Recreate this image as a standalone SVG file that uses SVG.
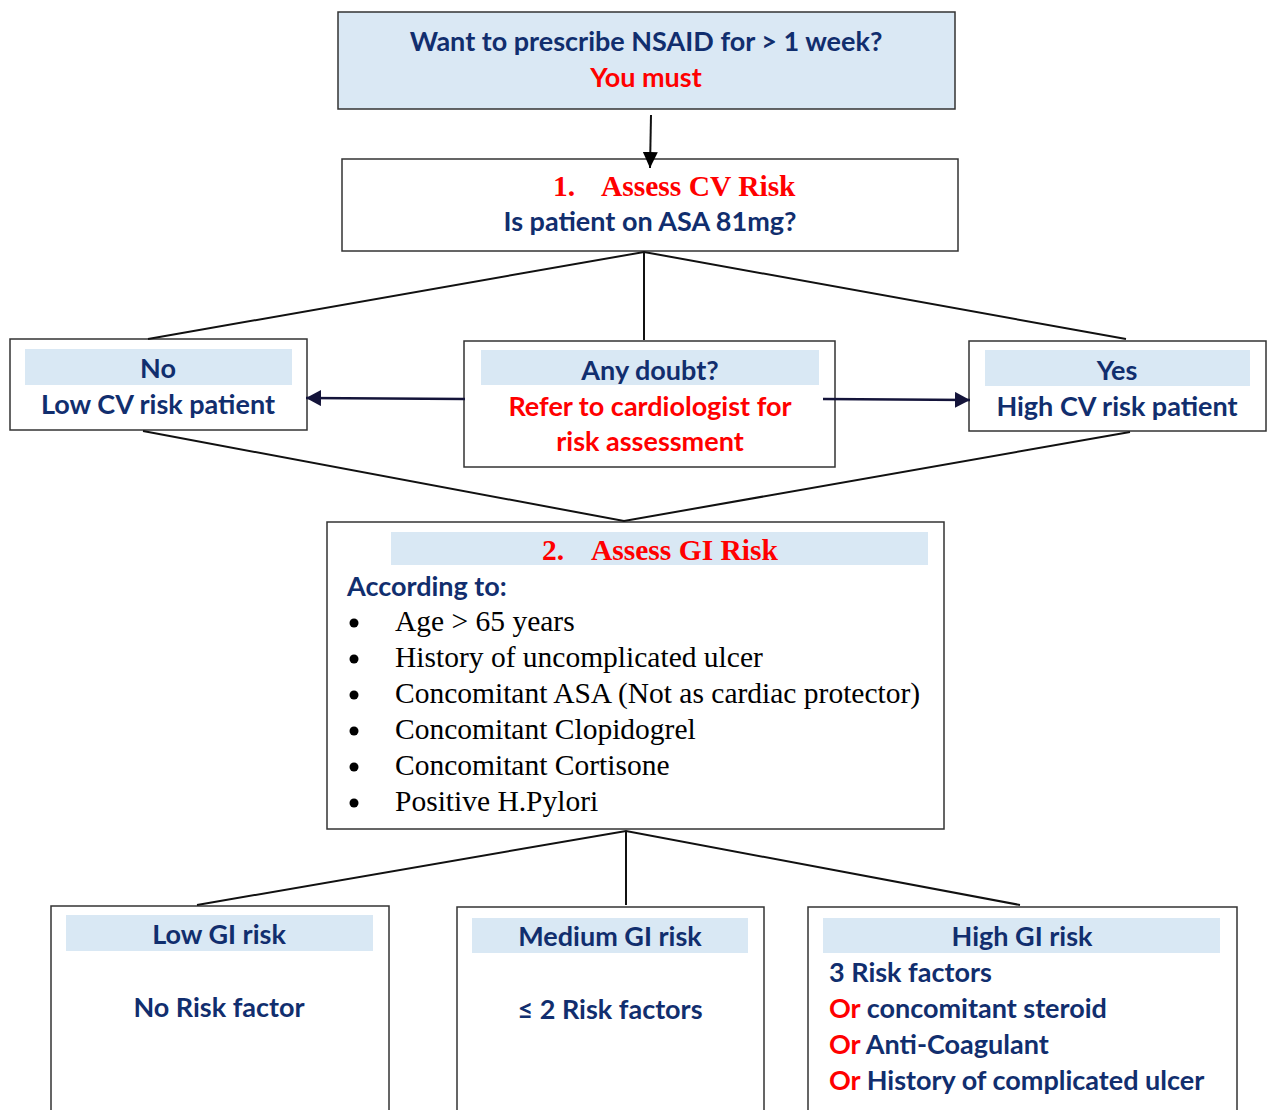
<svg xmlns="http://www.w3.org/2000/svg" width="1268" height="1110" viewBox="0 0 1268 1110">
<defs>
<style>
.box{fill:#fff;stroke:#333;stroke-width:1.5}
.band{fill:#d9e8f4}
.s{font-family:Lato,"Open Sans","Liberation Sans",sans-serif;font-weight:bold;font-size:27px;fill:#112e6e}
.c{text-anchor:middle}
.r{fill:#ff0000}
.t{font-family:"Liberation Serif","Times New Roman",serif;font-size:29.5px;fill:#000}
.tr{font-family:"Liberation Serif","Times New Roman",serif;font-size:29.5px;font-weight:bold;fill:#ff0000}
.ln{stroke:#111;stroke-width:2;fill:none}
.lnb{stroke:#14143a;stroke-width:2.5;fill:none}
</style>
<marker id="ah" viewBox="0 0 10 10" refX="10" refY="5" markerWidth="16" markerHeight="15" preserveAspectRatio="none" orient="auto" markerUnits="userSpaceOnUse">
<path d="M0,0 L10,5 L0,10 z" fill="#000"/>
</marker>
<marker id="ahn" viewBox="0 0 10 10" refX="10" refY="5" markerWidth="15" markerHeight="16" preserveAspectRatio="none" orient="auto" markerUnits="userSpaceOnUse">
<path d="M0,0 L10,5 L0,10 z" fill="#14143a"/>
</marker>
</defs>
<rect width="1268" height="1110" fill="#fff"/>

<g id="n-start">
<rect x="338" y="12" width="617" height="97" fill="#dae8f4" stroke="#333" stroke-width="1.5"/>
<text class="s c" x="646" y="51">Want to prescribe NSAID for &gt; 1 week?</text>
<text class="s c r" x="646" y="87">You must</text>
</g>

<g id="n-cv">
<rect class="box" x="342" y="159" width="616" height="92"/>
<text class="tr" x="553" y="196">1.</text>
<text class="tr" x="601" y="196">Assess CV Risk</text>
<text class="s c" x="650" y="231">Is patient on ASA 81mg?</text>
</g>

<g id="n-no">
<rect class="box" x="10" y="339" width="297" height="91"/>
<rect class="band" x="25" y="349" width="267" height="36"/>
<text class="s c" x="158" y="378">No</text>
<text class="s c" x="158" y="414">Low CV risk patient</text>
</g>

<g id="n-doubt">
<rect class="box" x="464" y="341" width="371" height="126"/>
<rect class="band" x="481" y="350" width="338" height="35"/>
<text class="s c" x="650" y="380">Any doubt?</text>
<text class="s c r" x="650" y="416">Refer to cardiologist for</text>
<text class="s c r" x="650" y="451">risk assessment</text>
</g>

<g id="n-yes">
<rect class="box" x="969" y="341" width="297" height="90"/>
<rect class="band" x="985" y="350" width="265" height="36"/>
<text class="s c" x="1117" y="380">Yes</text>
<text class="s c" x="1117" y="416">High CV risk patient</text>
</g>

<g id="n-gi">
<rect class="box" x="327" y="522" width="617" height="307"/>
<rect class="band" x="391" y="532" width="537" height="33"/>
<text class="tr" x="542" y="560">2.</text>
<text class="tr" x="591" y="560">Assess GI Risk</text>
<text class="s" x="347" y="596">According to:</text>
<circle cx="354" cy="623" r="4.5" fill="#000"/>
<circle cx="354" cy="659" r="4.5" fill="#000"/>
<circle cx="354" cy="695" r="4.5" fill="#000"/>
<circle cx="354" cy="731" r="4.5" fill="#000"/>
<circle cx="354" cy="767" r="4.5" fill="#000"/>
<circle cx="354" cy="803" r="4.5" fill="#000"/>
<text class="t" x="395" y="631">Age &gt; 65 years</text>
<text class="t" x="395" y="667">History of uncomplicated ulcer</text>
<text class="t" x="395" y="703">Concomitant ASA (Not as cardiac protector)</text>
<text class="t" x="395" y="739">Concomitant Clopidogrel</text>
<text class="t" x="395" y="775">Concomitant Cortisone</text>
<text class="t" x="395" y="811">Positive H.Pylori</text>
</g>

<g id="n-low">
<rect class="box" x="51" y="906" width="338" height="210"/>
<rect class="band" x="66" y="915" width="307" height="36"/>
<text class="s c" x="219" y="944">Low GI risk</text>
<text class="s c" x="219" y="1017">No Risk factor</text>
</g>

<g id="n-med">
<rect class="box" x="457" y="907" width="307" height="210"/>
<rect class="band" x="472" y="918" width="276" height="35"/>
<text class="s c" x="610" y="946">Medium GI risk</text>
<text class="s c" x="610" y="1019">≤ 2 Risk factors</text>
</g>

<g id="n-high">
<rect class="box" x="808" y="907" width="429" height="210"/>
<rect class="band" x="823" y="918" width="397" height="35"/>
<text class="s c" x="1022" y="946">High GI risk</text>
<text class="s" x="829" y="982">3 Risk factors</text>
<text class="s" x="829" y="1018"><tspan class="r">Or</tspan> concomitant steroid</text>
<text class="s" x="829" y="1054"><tspan class="r">Or</tspan> Anti-Coagulant</text>
<text class="s" x="829" y="1090"><tspan class="r">Or</tspan> History of complicated ulcer</text>
</g>

<g id="connectors">
<line class="ln" x1="651" y1="115" x2="650" y2="168" marker-end="url(#ah)"/>
<polyline class="ln" points="148,339 644,252 1126,339"/>
<line class="ln" x1="644" y1="252" x2="644" y2="340"/>
<line class="lnb" x1="465" y1="399" x2="306" y2="398" marker-end="url(#ahn)"/>
<line class="lnb" x1="823" y1="399" x2="970" y2="400" marker-end="url(#ahn)"/>
<polyline class="ln" points="143,431 624,521 1130,432"/>
<polyline class="ln" points="197,905 626,831 1020,905"/>
<line class="ln" x1="626" y1="831" x2="626" y2="905"/>
</g>
</svg>
